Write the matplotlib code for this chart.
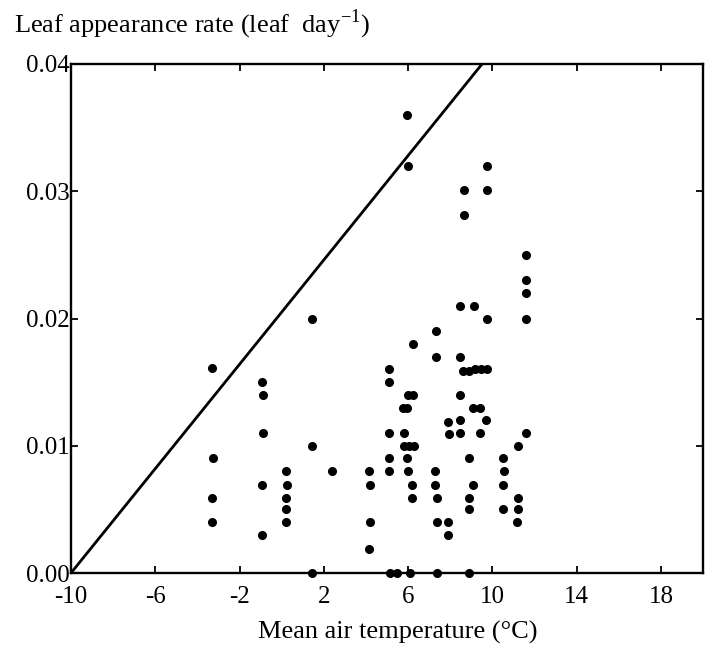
import matplotlib
matplotlib.use('Agg')
import matplotlib.pyplot as plt
from matplotlib.ticker import FormatStrFormatter

plt.rcParams['font.family'] = ['Liberation Serif', 'DejaVu Serif']
plt.rcParams['mathtext.fontset'] = 'custom'
plt.rcParams['mathtext.rm'] = 'Liberation Serif'
plt.rcParams['axes.unicode_minus'] = False

# mean air temperature (C) and leaf appearance rate (leaf/day)
temp = [5.96, 5.98, 1.44, 6.22, -3.30, 9.76, 8.65, 9.76, 8.65, 11.62,
        11.62, 11.61, 8.48, 9.14, 9.73, 11.60, 7.34, 7.33, 8.46, -0.91,
        -0.89, -0.89, 1.43, -3.28, 0.21, 2.37, -0.91, 0.23, -3.29, 0.22,
        0.22, -3.29, 0.22, -0.91, 5.10, 5.10, 6.01, 6.23, 5.77, 5.96,
        5.09, 5.83, 5.83, 6.04, 6.26, 5.08, 5.96, 5.08, 5.98, 4.16,
        4.17, 6.21, 6.20, 4.18, 4.16, 7.29, 7.30, 7.37, 7.39, 7.90,
        7.89, 8.61, 8.89, 9.18, 9.46, 9.75, 8.45, 9.10, 9.42, 7.91,
        8.47, 9.71, 7.92, 8.48, 9.42, 11.59, 11.20, 8.88, 10.53, 10.54,
        9.10, 10.53, 8.88, 11.22, 8.88, 10.52, 11.20, 11.19,
        1.43, 5.15, 5.49, 6.09, 7.36, 8.88]
rate = [0.0360, 0.0320, 0.0200, 0.0180, 0.0161, 0.0320, 0.0301, 0.0301, 0.0281, 0.0250,
        0.0230, 0.0220, 0.0210, 0.0210, 0.0200, 0.0200, 0.0190, 0.0170, 0.0170, 0.0150,
        0.0140, 0.0110, 0.0100, 0.0090, 0.0080, 0.0080, 0.0069, 0.0069, 0.0059, 0.0059,
        0.0050, 0.0040, 0.0040, 0.0030, 0.0160, 0.0150, 0.0140, 0.0140, 0.0130, 0.0130,
        0.0110, 0.0110, 0.0100, 0.0100, 0.0100, 0.0090, 0.0090, 0.0080, 0.0080, 0.0080,
        0.0069, 0.0069, 0.0059, 0.0040, 0.0019, 0.0080, 0.0069, 0.0059, 0.0040, 0.0040,
        0.0030, 0.0159, 0.0159, 0.0160, 0.0160, 0.0160, 0.0140, 0.0130, 0.0130, 0.0119,
        0.0120, 0.0120, 0.0109, 0.0110, 0.0110, 0.0110, 0.0100, 0.0090, 0.0090, 0.0080,
        0.0069, 0.0069, 0.0059, 0.0059, 0.0050, 0.0050, 0.0050, 0.0040,
        0.0, 0.0, 0.0, 0.0, 0.0, 0.0]

# upper boundary line: base temperature and slope
t_base = -10
slope = 0.00205

xticks = [-10, -6, -2, 2, 6, 10, 14, 18]
yticks = [0.00, 0.01, 0.02, 0.03, 0.04]

fig = plt.figure(figsize=(7.1, 6.54), dpi=100)
ax = fig.add_axes([71/710, 1-573/654, 632/710, 509/654])

ax.plot(temp, rate, 'o', color='black', ms=5.5, mec='black', clip_on=False, zorder=3)
lx = [t_base, 20]
ax.plot(lx, [slope*(t - t_base) for t in lx], color='black', lw=2)

ax.set_xlim(-10, 20)
ax.set_ylim(0, 0.04)
ax.set_xticks(xticks)
ax.set_yticks(yticks)
ax.yaxis.set_major_formatter(FormatStrFormatter('%.2f'))
ax.tick_params(direction='in', top=True, right=True, length=5, width=1.3, labelsize=18)
ax.tick_params(axis='x', pad=9.5)
ax.tick_params(axis='y', pad=1)
for s in ax.spines.values():
    s.set_linewidth(1.7)

fig.text(14/710, 1-8/654, 'Leaf appearance rate (leaf  day$^{-1}$)', fontsize=19, ha='left', va='top')
fig.text(398/710, 1-632/654, 'Mean air temperature (°C)', fontsize=19, ha='center', va='center')

fig.savefig('out.png', dpi=100)
